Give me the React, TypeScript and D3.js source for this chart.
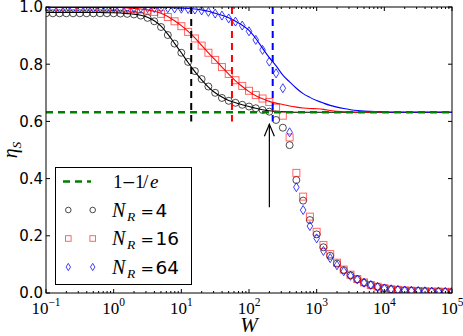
import * as d3 from "d3";

// W grid: 10 points per decade from 1e-1 to 1e5
const W = d3.range(-10, 51).map((k) => Math.pow(10, k / 10));

// smooth curves (theory) for N_R = 4, 16, 64
const curveNR4 = [
  0.981, 0.981, 0.981, 0.981, 0.981, 0.981, 0.981, 0.981, 0.981, 0.980,
  0.980, 0.979, 0.977, 0.975, 0.971, 0.964, 0.952, 0.933, 0.905, 0.873,
  0.840, 0.806, 0.774, 0.745, 0.720, 0.700, 0.685, 0.673, 0.665, 0.658,
  0.652, 0.646, 0.641, 0.637, 0.635, 0.634, 0.633, 0.632, 0.632, 0.632,
  0.632, 0.632, 0.632, 0.632, 0.632, 0.632, 0.632, 0.632, 0.632, 0.632,
  0.632, 0.632, 0.632, 0.632, 0.632, 0.632, 0.632, 0.632, 0.632, 0.632,
  0.632,
];
const curveNR16 = [
  0.998, 0.998, 0.998, 0.998, 0.998, 0.998, 0.998, 0.998, 0.998, 0.998,
  0.998, 0.998, 0.997, 0.995, 0.993, 0.990, 0.985, 0.978, 0.967, 0.952,
  0.935, 0.915, 0.892, 0.866, 0.840, 0.815, 0.790, 0.765, 0.742, 0.722,
  0.704, 0.690, 0.679, 0.670, 0.664, 0.659, 0.654, 0.650, 0.647, 0.645,
  0.644, 0.642, 0.638, 0.635, 0.634, 0.633, 0.632, 0.632, 0.632, 0.632,
  0.632, 0.632, 0.632, 0.632, 0.632, 0.632, 0.632, 0.632, 0.632, 0.632,
  0.632,
];
const curveNR64 = [
  0.998, 0.998, 0.998, 0.998, 0.998, 0.998, 0.998, 0.998, 0.998, 0.998,
  0.998, 0.998, 0.998, 0.998, 0.998, 0.998, 0.998, 0.998, 0.998, 0.997,
  0.996, 0.995, 0.993, 0.990, 0.985, 0.978, 0.971, 0.962, 0.950, 0.936,
  0.918, 0.890, 0.856, 0.823, 0.794, 0.762, 0.738, 0.716, 0.697, 0.684,
  0.673, 0.664, 0.656, 0.650, 0.645, 0.641, 0.638, 0.636, 0.635, 0.634,
  0.633, 0.632, 0.632, 0.632, 0.632, 0.632, 0.632, 0.632, 0.632, 0.632,
  0.632,
];

// simulation markers
const markNR4 = [
  0.978, 0.978, 0.978, 0.978, 0.978, 0.978, 0.978, 0.978, 0.978, 0.978,
  0.978, 0.977, 0.976, 0.974, 0.970, 0.962, 0.950, 0.930, 0.902, 0.872,
  0.840, 0.808, 0.776, 0.748, 0.722, 0.700, 0.682, 0.672, 0.665, 0.658,
  0.652, 0.646, 0.640, 0.634, 0.605, 0.578, 0.517, 0.395, 0.323, 0.255,
  0.205, 0.160, 0.130, 0.103, 0.080, 0.062, 0.048, 0.036, 0.028, 0.022,
  0.017, 0.013, 0.011, 0.009, 0.008, 0.007, 0.006, 0.005, 0.005, 0.004,
  0.004,
];
const markNR16 = [
  0.995, 0.995, 0.995, 0.995, 0.995, 0.995, 0.995, 0.995, 0.995, 0.995,
  0.995, 0.995, 0.994, 0.993, 0.991, 0.988, 0.983, 0.976, 0.965, 0.950,
  0.933, 0.913, 0.890, 0.865, 0.840, 0.815, 0.790, 0.766, 0.744, 0.724,
  0.707, 0.692, 0.680, 0.668, 0.648, 0.620, 0.544, 0.420, 0.337, 0.267,
  0.214, 0.168, 0.136, 0.106, 0.082, 0.064, 0.049, 0.037, 0.028, 0.022,
  0.017, 0.013, 0.011, 0.009, 0.008, 0.007, 0.006, 0.005, 0.005, 0.004,
  0.004,
];
const markNR64 = [
  0.996, 0.996, 0.996, 0.996, 0.996, 0.996, 0.996, 0.996, 0.996, 0.996,
  0.996, 0.996, 0.996, 0.996, 0.996, 0.996, 0.996, 0.996, 0.996, 0.995,
  0.994, 0.993, 0.991, 0.988, 0.983, 0.977, 0.970, 0.960, 0.949, 0.935,
  0.915, 0.885, 0.850, 0.809, 0.768, 0.716, 0.562, 0.370, 0.290, 0.234,
  0.191, 0.147, 0.122, 0.097, 0.076, 0.060, 0.047, 0.036, 0.028, 0.021,
  0.016, 0.013, 0.011, 0.009, 0.008, 0.007, 0.006, 0.005, 0.005, 0.004,
  0.004,
];

const seriesLabels = ["4", "16", "64"];
const crossoverW = [14, 56, 224];
const arrowW = 200;
const arrowFrom = 0.3;
const arrowTo = 0.59;
const plateau = 1 - 1 / Math.E;
const xTickExps = [-1, 0, 1, 2, 3, 4, 5];
const yTicks = [0, 0.2, 0.4, 0.6, 0.8, 1.0];

const serif = "'Liberation Serif', 'DejaVu Serif', serif";
const dserif = "'DejaVu Serif', serif";
const sans = "'DejaVu Sans', sans-serif";

function Marker({ kind, cx, cy, s = 1 }: { kind: number; cx: number; cy: number; s?: number }) {
  if (kind === 0)
    return <circle cx={cx} cy={cy} r={3.5 * s} fill="none" stroke="#000" strokeOpacity={0.7} />;
  if (kind === 1)
    return (
      <rect x={cx - 3.5 * s} y={cy - 3.5 * s} width={7 * s} height={7 * s}
        fill="none" stroke="#f00" strokeOpacity={0.6} />
    );
  const w = 2.8 * s, h = 4.5 * s;
  return (
    <path d={`M${cx},${cy - h}L${cx + w},${cy}L${cx},${cy + h}L${cx - w},${cy}Z`}
      fill="none" stroke="#00f" strokeOpacity={0.75} />
  );
}

export default function App() {
  const width = 463, height = 336;
  const L = 46, R = 452, T = 7, B = 293;
  const x = d3.scaleLog().domain([0.1, 1e5]).range([L, R]);
  const y = d3.scaleLinear().domain([0, 1]).range([B, T]);

  const line = d3.line<number>()
    .x((_, i) => x(W[i]))
    .y((d) => y(d))
    .curve(d3.curveMonotoneX);

  const marks = [markNR4, markNR16, markNR64];
  const curves = [curveNR4, curveNR16, curveNR64];
  const colors = ["#000", "#f00", "#00f"];

  const minor: number[] = [];
  for (let e = -1; e < 5; e++) for (let m = 2; m < 10; m++) minor.push(m * Math.pow(10, e));

  const ax = x(arrowW);
  const ay = y(arrowTo);

  const legY = [181.5, 210, 238.5, 267];

  return (
    <svg width={width} height={height} style={{ position: "absolute", left: 0, top: 0, background: "#fff" }}>
      <defs>
        <clipPath id="plot">
          <rect x={L} y={T} width={R - L} height={B - T} />
        </clipPath>
      </defs>
      <rect width={width} height={height} fill="#fff" />

      <g clipPath="url(#plot)">
        {marks.map((arr, si) =>
          arr.map((v, i) => <Marker key={`${si}-${i}`} kind={si} cx={x(W[i])} cy={y(v)} />)
        )}
        {curves.map((arr, si) => (
          <path key={si} d={line(arr) ?? ""} fill="none" stroke={colors[si]} strokeWidth={1.1} />
        ))}
        <line x1={L} x2={R} y1={y(plateau)} y2={y(plateau)} stroke="#008000" strokeWidth={2.4} strokeDasharray="7,5" />
        {crossoverW.map((w, i) => (
          <line key={i} x1={x(w)} x2={x(w)} y1={y(1)} y2={y(0.6)} stroke={colors[i]} strokeWidth={2} strokeDasharray="7,5" />
        ))}
        <line x1={ax} x2={ax} y1={y(arrowFrom)} y2={ay} stroke="#000" strokeWidth={1.2} />
        <path d={`M${ax - 5},${ay + 12}L${ax},${ay}L${ax + 5},${ay + 12}`} fill="none" stroke="#000" strokeWidth={1.2} />
      </g>

      {/* ticks */}
      <g stroke="#000" strokeWidth={1}>
        {xTickExps.map((e) => {
          const px = x(Math.pow(10, e));
          return (
            <g key={e}>
              <line x1={px} x2={px} y1={B} y2={B - 4} />
              <line x1={px} x2={px} y1={T} y2={T + 4} />
            </g>
          );
        })}
        {minor.map((v, i) => {
          const px = x(v);
          return (
            <g key={i}>
              <line x1={px} x2={px} y1={B} y2={B - 2} />
              <line x1={px} x2={px} y1={T} y2={T + 2} />
            </g>
          );
        })}
        {yTicks.map((v) => (
          <g key={v}>
            <line x1={L} x2={L + 4} y1={y(v)} y2={y(v)} />
            <line x1={R} x2={R - 4} y1={y(v)} y2={y(v)} />
          </g>
        ))}
      </g>
      <rect x={L} y={T} width={R - L} height={B - T} fill="none" stroke="#000" strokeWidth={1} />

      {/* tick labels */}
      {yTicks.map((v) => (
        <text key={v} x={L - 3} y={y(v)} dy="0.36em" textAnchor="end" fontFamily={sans} fontSize={15}>
          {v.toFixed(1)}
        </text>
      ))}
      {xTickExps.map((e) => (
        <text key={e} x={x(Math.pow(10, e))} y={313.5} textAnchor="middle" fontFamily={serif} fontSize={17}>
          <tspan>10</tspan>
          <tspan dy={-7.5} fontSize={11.5}>{e < 0 ? `\u2212${-e}` : `${e}`}</tspan>
        </text>
      ))}

      {/* axis labels */}
      <text x={249} y={332} textAnchor="middle" fontFamily={serif} fontStyle="italic" fontSize={21}>W</text>
      <text transform="translate(17,150) rotate(-90)" textAnchor="middle" fontFamily={serif} fontSize={20}>
        <tspan fontStyle="italic">η</tspan>
        <tspan dy={4} fontSize={13.5} fontStyle="italic">S</tspan>
      </text>

      {/* legend */}
      <rect x={55.5} y={167.5} width={136} height={117} fill="#fff" stroke="#000" strokeWidth={1} />
      <line x1={63} x2={91} y1={legY[0]} y2={legY[0]} stroke="#008000" strokeWidth={2.4} strokeDasharray="7,5" />
      <text y={legY[0] + 6.5} fontFamily={serif} fontSize={19}>
        <tspan x={113}>1</tspan>
        <tspan x={121.5} fontFamily={dserif} fontSize={17}>−</tspan>
        <tspan x={135}>1</tspan>
        <tspan x={143}>/</tspan>
        <tspan x={150} fontStyle="italic">e</tspan>
      </text>
      {seriesLabels.map((lab, i) => (
        <g key={lab}>
          <Marker kind={i} cx={68.3} cy={legY[i + 1]} s={0.8} />
          <Marker kind={i} cx={92.7} cy={legY[i + 1]} s={0.8} />
          <text y={legY[i + 1] + 6.5} fontSize={19}>
            <tspan x={112} fontFamily={serif} fontStyle="italic" fontSize={20}>N</tspan>
            <tspan x={127} fontFamily={serif} fontStyle="italic" fontSize={13.5} dy={4}>R</tspan>
            <tspan x={140.5} fontFamily={dserif} fontSize={16} dy={-4}>=</tspan>
            <tspan x={155.5} fontFamily={sans} fontSize={18.5}>{lab}</tspan>
          </text>
        </g>
      ))}
    </svg>
  );
}
